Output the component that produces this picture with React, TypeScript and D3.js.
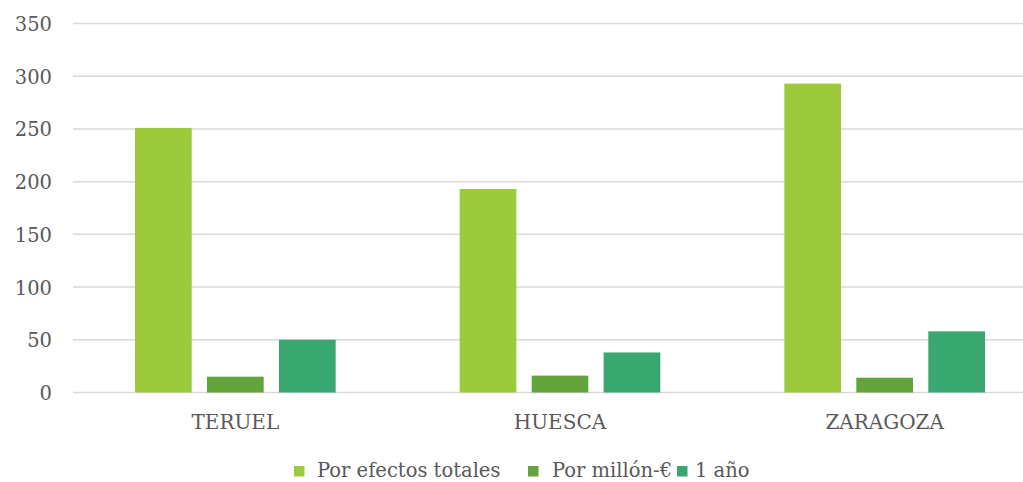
import React from "react";
import * as d3 from "d3";

const categories = ["TERUEL", "HUESCA", "ZARAGOZA"];
const seriesNames = ["Por efectos totales", "Por millón-€", "1 año"];
const seriesColors = ["#9BCB3B", "#62A33A", "#38A870"];
const efectosTotales = [251, 193, 293];
const porMillon = [15, 16, 14];
const unAnio = [50, 38, 58];
const yTicks = [0, 50, 100, 150, 200, 250, 300, 350];

const W = 1023;
const H = 482;
const left = 73;
const right = 1047;
const top = 23.5;
const bottom = 392.5;
const font = "DejaVu Serif";
const textColor = "#595959";

export default function App() {
  const series = [efectosTotales, porMillon, unAnio];
  const x0 = d3.scaleBand<string>().domain(categories).range([left, right]).paddingInner(0.382).paddingOuter(0.191);
  const x1 = d3.scaleBand<number>().domain([0, 1, 2]).range([0, x0.bandwidth()]).paddingInner(0.2125);
  const y = d3.scaleLinear().domain([0, 350]).range([bottom, top]);

  const legendX = [294, 528, 677];
  const legendTextX = [317, 552, 695];

  return (
    <svg width={W} height={H} style={{ position: "absolute", left: 0, top: 0, background: "#fff" }}>
      {yTicks.map((t) => (
        <g key={t}>
          <line x1={left} x2={W} y1={y(t)} y2={y(t)} stroke="#d9d9d9" strokeWidth={1.5} />
          <text x={52} y={y(t) + 7.5} textAnchor="end" fontFamily={font} fontSize={19.5} fill={textColor}>
            {t}
          </text>
        </g>
      ))}
      {categories.map((c, ci) => (
        <g key={c} transform={`translate(${x0(c)},0)`}>
          {series.map((s, si) => (
            <rect
              key={si}
              x={x1(si)}
              y={y(s[ci])}
              width={x1.bandwidth()}
              height={y(0) - y(s[ci])}
              fill={seriesColors[si]}
            />
          ))}
          <text
            x={x0.bandwidth() / 2}
            y={429}
            textAnchor="middle"
            fontFamily={font}
            fontSize={20}
            fill={textColor}
          >
            {c}
          </text>
        </g>
      ))}
      {seriesNames.map((n, i) => (
        <g key={n}>
          <rect x={legendX[i]} y={466} width={10.5} height={10.5} fill={seriesColors[i]} />
          <text x={legendTextX[i]} y={477} fontFamily={font} fontSize={19.5} fill={textColor}>
            {n}
          </text>
        </g>
      ))}
    </svg>
  );
}
